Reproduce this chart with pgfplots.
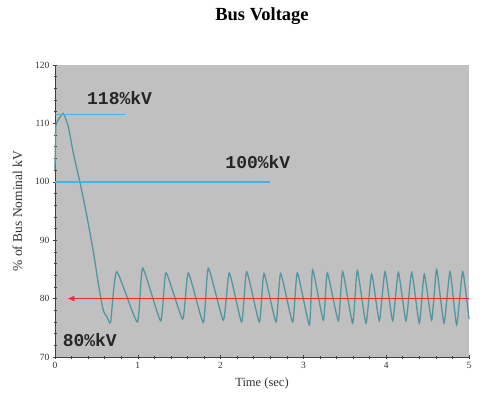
\documentclass[border=0pt]{standalone}
\usepackage{fontspec}
\setmainfont{Liberation Serif}
\newfontfamily\monofont{Liberation Mono}
\usepackage{pgfplots}
\pgfplotsset{compat=1.18}
\usetikzlibrary{arrows.meta}
\definecolor{plotbg}{RGB}{192,192,192}
\definecolor{busline}{RGB}{84,150,160}
\definecolor{refblue}{RGB}{70,180,225}
\definecolor{refred}{RGB}{230,45,45}

\begin{document}
\begin{tikzpicture}
    % page frame, same proportions as the reference
    \path (0pt,0pt) rectangle (482pt,405pt);
    \node[font=\fontsize{18.5}{20}\selectfont\bfseries] at (262pt,389pt) {Bus Voltage};

    \begin{axis}[
        at={(55pt,48pt)},
        anchor=south west,
        width=414pt,
        height=292pt,
        scale only axis,
        xmin=0, xmax=5,
        ymin=70, ymax=120,
        xtick={0,1,2,3,4,5},
        ytick={70,80,90,100,110,120},
        minor x tick num=4,
        minor y tick num=4,
        axis x line*=bottom,
        axis y line*=left,
        axis line style={black!75, line width=0.8pt},
        tick align=center,
        major tick length=4pt,
        minor tick length=3pt,
        tick style={black!75, line width=0.6pt},
        axis background/.style={fill=plotbg},
        xlabel={Time (sec)},
        ylabel={\% of Bus Nominal kV},
        label style={font=\fontsize{12.5}{14}\selectfont, text=black!80},
        xlabel style={yshift=-2pt},
        ylabel style={font=\fontsize{13.5}{15}\selectfont, yshift=6pt},
        tick label style={font=\fontsize{9.5}{11}\selectfont, text=black!80},
        /pgf/number format/assume math mode=true,
        clip=false,
    ]
        % bus voltage trace
        \addplot[busline, line width=1.3pt, mark=none, smooth, tension=0.3] coordinates {
            (0,102) (0.01,109.5) (0.04,110.6) (0.10,111.7) (0.16,109.5)
            (0.22,105) (0.30,100) (0.38,94.5) (0.46,88.3) (0.53,82)
            (0.583,78) (0.63,76.8) (0.672,76.0)
            (0.745,84.6) (0.994,76.0) (1.059,85.2) (1.276,76.2)
            (1.341,84.4) (1.542,76.5) (1.610,84.4) (1.791,75.9)
            (1.852,85.2) (2.033,76.3) (2.105,84.4) (2.254,76.0)
            (2.315,84.6) (2.468,76.0) (2.524,84.3) (2.669,76.0)
            (2.725,84.3) (2.870,76.0) (2.927,84.4) (3.072,75.5)
            (3.112,84.9) (3.241,76.3) (3.289,84.4) (3.422,76.2)
            (3.474,84.6) (3.595,75.8) (3.651,84.8) (3.756,75.8)
            (3.824,84.2) (3.917,76.2) (3.986,84.6) (4.078,76.2)
            (4.147,84.5) (4.239,76.2) (4.308,84.5) (4.400,75.8)
            (4.460,84.2) (4.549,76.3) (4.609,85.0) (4.698,75.8)
            (4.771,84.6) (4.851,75.5) (4.924,84.6) (5.0,76.5)
        };
        % reference levels
        \addplot[refblue, line width=1.4pt, mark=none] coordinates {(0,111.5) (0.85,111.5)};
        \addplot[refblue, line width=1.4pt, mark=none] coordinates {(0,100) (2.6,100)};
        \addplot[refred, line width=1.4pt, mark=none, -{Latex[length=7pt,width=6pt]}]
            coordinates {(5,80) (0.15,80)};

        \node[font=\monofont\fontsize{18}{20}\selectfont\bfseries, text=black!85]
            at (axis cs:0.78,114.4) {118\%kV};
        \node[font=\monofont\fontsize{18}{20}\selectfont\bfseries, text=black!85]
            at (axis cs:2.45,103.4) {100\%kV};
        \node[font=\monofont\fontsize{18}{20}\selectfont\bfseries, text=black!85]
            at (axis cs:0.42,72.9) {80\%kV};
    \end{axis}
\end{tikzpicture}
\end{document}
